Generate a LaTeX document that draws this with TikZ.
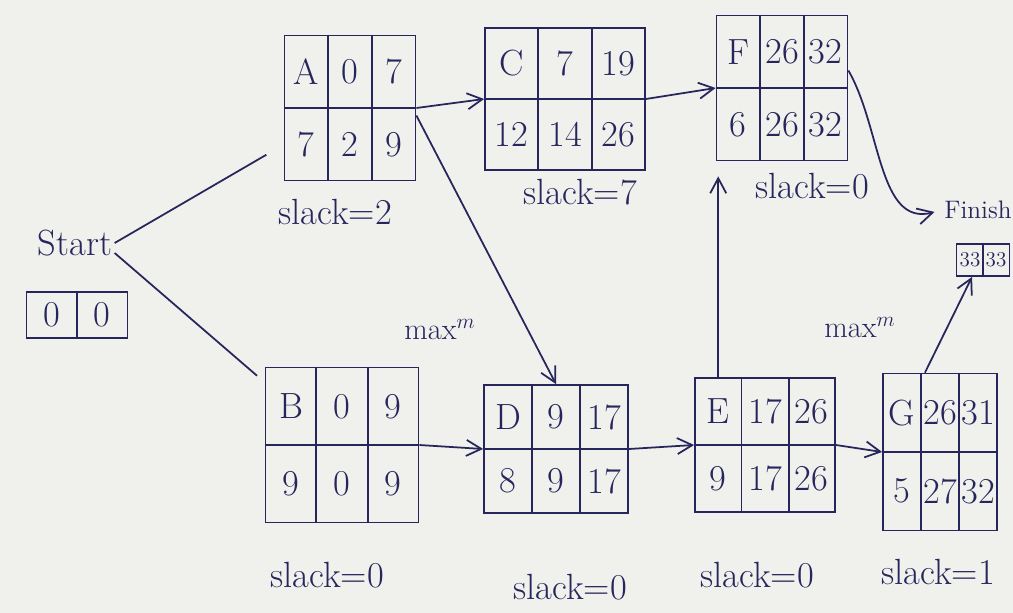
\documentclass[tikz,border=0pt]{standalone}
\usepackage{tikz}
\usetikzlibrary{arrows.meta,positioning,calc}
\definecolor{ink}{RGB}{38,38,92}
\definecolor{paper}{RGB}{240,240,237}

\begin{document}
\begin{tikzpicture}[
  x=0.2mm, y=-0.2mm,
  line width=1pt,
  act/.style  = {draw=ink, inner sep=0pt},
  num/.style  = {text=ink, font=\huge, inner sep=0pt},
  lbl/.style  = {text=ink, font=\huge, inner sep=1pt},
  arr/.style  = {draw=ink, -{Straight Barb[length=3mm,width=3.2mm]}, line width=1pt},
  line/.style = {draw=ink, line width=1pt},
]

%% ── PAPER ───────────────────────────────────────────────────────────────
\fill[paper] (0,0) rectangle (1013,613);
\useasboundingbox (0,0) rectangle (1013,613);

%% ── START ───────────────────────────────────────────────────────────────
\node[lbl] (start) at (75,243) {Start};
\node[act, minimum width=20.2mm, minimum height=9.2mm] (startbox) at (77,315) {};
\draw[line] (startbox.north) -- (startbox.south);
\node[num] at (52,315) {0};
\node[num] at (102,315) {0};

%% ── ACTIVITY BOXES (name, centre, size, top row, bottom row) ────────────
\foreach \n/\x/\y/\w/\h/\ta/\tb/\tc/\ba/\bb/\bc in {
    A/350/108/131/145/A/0/7/7/2/9,
    C/565/99/160/142/C/7/19/12/14/26,
    F/782/88/131/145/F/26/32/6/26/32,
    B/342/445/153/155/B/0/9/9/0/9,
    D/556/449/144/128/D/9/17/8/9/17,
    E/765/445/140/134/E/17/26/9/17/26,
    G/940/452/114/157/G/26/31/5/27/32} {
  \node[act, minimum width=\w*0.2mm, minimum height=\h*0.2mm] (\n) at (\x,\y) {};
  \draw[line] ($(\n.north west)!1/3!(\n.north east)$) -- ($(\n.south west)!1/3!(\n.south east)$);
  \draw[line] ($(\n.north west)!2/3!(\n.north east)$) -- ($(\n.south west)!2/3!(\n.south east)$);
  \draw[line] (\n.west) -- (\n.east);
  \node[num] at (\x-\w/3,\y-\h/4) {\ta};
  \node[num] at (\x,\y-\h/4)      {\tb};
  \node[num] at (\x+\w/3,\y-\h/4) {\tc};
  \node[num] at (\x-\w/3,\y+\h/4) {\ba};
  \node[num] at (\x,\y+\h/4)      {\bb};
  \node[num] at (\x+\w/3,\y+\h/4) {\bc};
}

%% ── SLACK LABELS ────────────────────────────────────────────────────────
\node[lbl] (slackA) at (335,212) {slack=2};
\node[lbl] (slackC) at (580,192) {slack=7};
\node[lbl] (slackF) at (812,186) {slack=0};
\node[lbl] (slackB) at (327,575) {slack=0};
\node[lbl] (slackD) at (570,587) {slack=0};
\node[lbl] (slackE) at (757,575) {slack=0};
\node[lbl] (slackG) at (938,572) {slack=1};

\node[lbl, font=\LARGE] (maxD) at (440,330) {max$^{m}$};
\node[lbl, font=\LARGE] (maxG) at (860,328) {max$^{m}$};

%% ── FINISH ──────────────────────────────────────────────────────────────
\node[lbl, font=\Large] (finish) at (978,210) {Finish};
\node[act, minimum width=10.6mm, minimum height=6.4mm] (finbox) at (983,260) {};
\draw[line] (finbox.north) -- (finbox.south);
\node[num, font=\large] at (970,260) {33};
\node[num, font=\large] at (996,260) {33};

%% ── CONNECTORS ──────────────────────────────────────────────────────────
\draw[line, shorten >=4mm] (start.east) -- ($(A.west)!0.5!(A.south west)$);
\draw[line, shorten >=2mm] ([yshift=-2mm]start.east) -- ($(B.north west)!0.2!(B.west)$);

\draw[arr] (A.east) -- (C.west);
\draw[arr] ([yshift=-1.5mm]A.east) -- (D.north);
\draw[arr] (C.east) -- (F.west);
\draw[arr, shorten >=1.5mm] ([yshift=3.5mm]F.east) to[out=-60,in=195] (finish.west);

\draw[arr] (B.east) -- (D.west);
\draw[arr] (D.east) -- (E.west);
\draw[arr] (E.east) -- (G.west);

\coordinate (eup) at ($(E.north west)!0.17!(E.north east)$);
\draw[arr, shorten >=3mm] (eup) -- (eup |- F.south);

\draw[arr] ($(G.north west)!0.37!(G.north east)$) -- ($(finbox.south west)!0.3!(finbox.south east)$);

\end{tikzpicture}
\end{document}
